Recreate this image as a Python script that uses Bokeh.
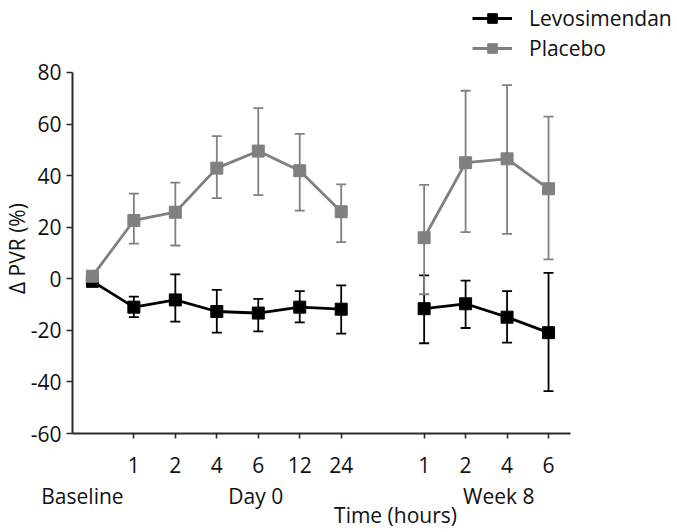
import math
from bokeh.plotting import figure
from bokeh.models import (ColumnDataSource, Whisker, TeeHead, FixedTicker, LinearAxis,
                          Legend, LegendItem, Range1d)
from bokeh.embed import file_html
from bokeh.resources import INLINE

# ---- data ----
x_day0 = [0, 1, 2, 3, 4, 5, 6]          # Baseline, 1, 2, 4, 6, 12, 24 h (Day 0)
x_week8 = [8, 9, 10, 11]                # 1, 2, 4, 6 h (Week 8)
tick_pos = [1, 2, 3, 4, 5, 6, 8, 9, 10, 11]
tick_labels = ["1", "2", "4", "6", "12", "24", "1", "2", "4", "6"]
group_pos = [-0.24, 3.94, 7.31, 9.8]
group_labels = ["Baseline", "Day 0", "\nTime (hours)", "Week 8"]
y_ticks = [-60, -40, -20, 0, 20, 40, 60, 80]
y_tick_labels = ["-60", "-40", "-20", "0", "20", "40", "60", "80"]
y_label_pos = 11.7
y_label = "Δ PVR (%)"

levo_day0 = [-1, -11, -8.2, -12.7, -13.3, -11, -11.8]
levo_day0_hi = [-6.9, 1.7, -4.3, -7.8, -4.8, -2.6]
levo_day0_lo = [-14.9, -16.6, -20.9, -20.4, -16.9, -21.3]
levo_week8 = [-11.6, -9.7, -14.9, -20.9]
levo_week8_hi = [1.3, -0.7, -4.8, 2.3]
levo_week8_lo = [-25, -19.1, -24.8, -43.6]

plac_day0 = [1, 22.6, 25.8, 42.9, 49.5, 41.9, 26]
plac_day0_hi = [33, 37.3, 55.3, 66.2, 56.2, 36.6]
plac_day0_lo = [13.6, 12.9, 31.3, 32.4, 26.4, 14.2]
plac_week8 = [15.9, 45, 46.5, 34.9]
plac_week8_hi = [36.4, 72.9, 75.1, 62.9]
plac_week8_lo = [-6, 18.1, 17.4, 7.5]

FONT = "Open Sans"
FS = "21px"
BLACK = "#000000"
GRAY = "#808080"
TXT = "#111111"
AXC = "#2a2a2a"

p = figure(width=677, height=532, output_backend="svg", toolbar_location=None,
           x_range=Range1d(-0.48, 14.11), y_range=Range1d(-60, 107.9),
           min_border_left=70, min_border_right=0, min_border_top=0,
           min_border_bottom=99)
p.outline_line_color = None
p.grid.visible = False

xa = p.xaxis[0]
ya = p.yaxis[0]
for ax in (xa, ya):
    ax.axis_line_color = AXC
    ax.axis_line_width = 2
    ax.major_tick_line_color = AXC
    ax.major_tick_line_width = 1.6
    ax.major_tick_in = 0
    ax.minor_tick_line_color = None
    ax.major_label_text_font = FONT
    ax.major_label_text_font_size = FS
    ax.major_label_text_color = TXT

ya.bounds = (-60, 80)
ya.ticker = FixedTicker(ticks=y_ticks)
ya.major_label_overrides = {t: s for t, s in zip(y_ticks, y_tick_labels)}
ya.major_tick_out = 6
ya.major_label_standoff = 5

xa.bounds = (-0.48, 11.54)
xa.ticker = FixedTicker(ticks=tick_pos)
xa.major_label_overrides = {pos: lab for pos, lab in zip(tick_pos, tick_labels)}
xa.major_tick_out = 5
xa.major_label_standoff = 18


def text_axis(**kw):
    ax = LinearAxis(axis_line_color=None, major_tick_line_color=None,
                    minor_tick_line_color=None, major_tick_in=0, major_tick_out=0,
                    major_label_text_font=FONT, major_label_text_font_size=FS,
                    major_label_text_color=TXT, **kw)
    return ax


gax = text_axis(ticker=FixedTicker(ticks=group_pos),
                major_label_overrides={pos: lab for pos, lab in zip(group_pos, group_labels)},
                major_label_standoff=6, major_label_text_line_height=0.68)
p.add_layout(gax, "below")

yl = text_axis(ticker=FixedTicker(ticks=[y_label_pos]),
               major_label_overrides={y_label_pos: y_label},
               major_label_orientation="parallel", major_label_standoff=-4)
p.add_layout(yl, "left")


def series(xs, ys, color, err_x, hi, lo):
    src = ColumnDataSource(dict(x=err_x, hi=hi, lo=lo))
    w = Whisker(base="x", upper="hi", lower="lo", source=src, dimension="height",
                line_color=color, line_width=1.8,
                upper_head=TeeHead(size=10, line_color=color, line_width=1.8),
                lower_head=TeeHead(size=10, line_color=color, line_width=1.8))
    p.add_layout(w)
    lr = p.line(xs, ys, line_color=color, line_width=2.8)
    sr = p.scatter(xs, ys, marker="square", size=12, fill_color=color, line_color=color)
    return lr, sr


l1, s1 = series(x_day0, levo_day0, BLACK, x_day0[1:], levo_day0_hi, levo_day0_lo)
series(x_week8, levo_week8, BLACK, x_week8, levo_week8_hi, levo_week8_lo)
l2, s2 = series(x_day0, plac_day0, GRAY, x_day0[1:], plac_day0_hi, plac_day0_lo)
series(x_week8, plac_week8, GRAY, x_week8, plac_week8_hi, plac_week8_lo)

legend = Legend(items=[LegendItem(label="Levosimendan", renderers=[l1, s1]),
                       LegendItem(label="Placebo", renderers=[l2, s2])],
                location=(400, 371), orientation="vertical",
                glyph_width=40, glyph_height=24, label_height=24, spacing=2,
                label_standoff=17, padding=0, margin=0,
                border_line_color=None, background_fill_alpha=0,
                label_text_font=FONT, label_text_font_size=FS, label_text_color=TXT)
p.add_layout(legend, "center")

open("out.html", "w").write(file_html(p, INLINE))
